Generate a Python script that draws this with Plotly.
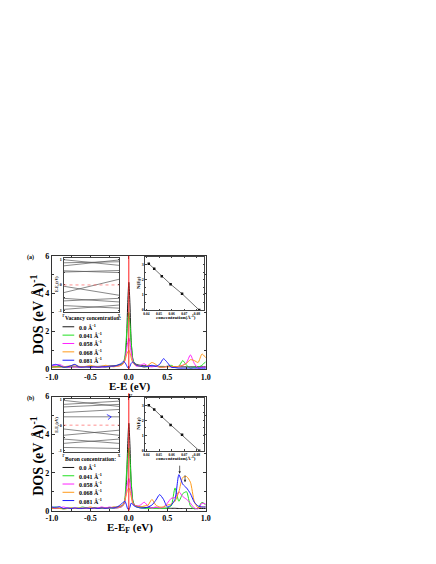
import plotly.graph_objects as go

W, H = 436, 564
SERIF = 'Liberation Serif'

energy = [-1.0, -0.95, -0.9, -0.85, -0.8, -0.75, -0.7, -0.65, -0.6, -0.55, -0.5, -0.45, -0.4, -0.35, -0.3,
          -0.25, -0.2, -0.15, -0.1, -0.07, -0.05, -0.03, -0.015, 0.0, 0.015, 0.03, 0.05, 0.07,
          0.1, 0.15, 0.2, 0.25, 0.3, 0.35, 0.4, 0.45, 0.5, 0.55, 0.6, 0.65, 0.7, 0.75, 0.8, 0.85, 0.9, 0.95, 1.0]

# panel (a): vacancy
vac_00 = [0.12, 0.12, 0.12, 0.12, 0.12, 0.12, 0.12, 0.12, 0.13, 0.13, 0.13, 0.14, 0.14, 0.15, 0.15, 0.16, 0.18, 0.2, 0.25,
          0.33, 0.55, 1.5, 3.4, 4.6, 3.4, 1.5, 0.55, 0.33,
          0.25, 0.2, 0.18, 0.16, 0.15, 0.15, 0.14, 0.14, 0.13, 0.13, 0.13, 0.12, 0.12, 0.12, 0.12, 0.12, 0.12, 0.12, 0.12]
vac_041 = [0.1, 0.12, 0.18, 0.1, 0.08, 0.12, 0.15, 0.1, 0.12, 0.1, 0.1, 0.12, 0.1, 0.12, 0.1, 0.12, 0.15, 0.18, 0.25,
           0.35, 0.7, 1.8, 2.5, 3.0, 2.4, 1.5, 0.6, 0.3,
           0.2, 0.15, 0.12, 0.12, 0.15, 0.15, 0.12, 0.12, 0.15, 0.2, 0.1, 0.15, 0.45, 0.2, 0.05, 0.1, 0.1, 0.2, 0.4]
vac_058 = [0.15, 0.2, 0.25, 0.15, 0.1, 0.1, 0.12, 0.1, 0.1, 0.12, 0.1, 0.1, 0.12, 0.1, 0.12, 0.12, 0.15, 0.15, 0.2,
           0.3, 0.5, 1.0, 1.4, 1.65, 1.4, 0.9, 0.45, 0.25,
           0.15, 0.2, 0.28, 0.15, 0.12, 0.15, 0.1, 0.1, 0.15, 0.12, 0.1, 0.15, 0.2, 0.35, 0.75, 0.3, 0.05, 0.1, 0.1]
vac_068 = [0.12, 0.1, 0.1, 0.12, 0.15, 0.18, 0.22, 0.15, 0.12, 0.15, 0.2, 0.15, 0.12, 0.15, 0.2, 0.15, 0.12, 0.15, 0.2,
           0.3, 0.45, 0.75, 0.9, 1.0, 0.85, 0.6, 0.35, 0.25,
           0.2, 0.15, 0.12, 0.2, 0.35, 0.25, 0.1, 0.1, 0.12, 0.15, 0.12, 0.15, 0.2, 0.3, 0.5, 0.45, 0.35, 0.8, 0.6]
vac_081 = [0.2, 0.25, 0.18, 0.1, 0.12, 0.18, 0.25, 0.12, 0.1, 0.12, 0.1, 0.12, 0.1, 0.12, 0.12, 0.15, 0.15, 0.2, 0.3,
           0.4, 0.35, 0.2, 0.08, 0.03, 0.15, 0.3, 0.38, 0.3,
           0.2, 0.15, 0.12, 0.15, 0.2, 0.15, 0.25, 0.55, 0.35, 0.1, 0.08, 0.05, 0.05, 0.05, 0.05, 0.05, 0.05, 0.05, 0.05]

# panel (b): boron
bor_00 = [0.12, 0.12, 0.12, 0.12, 0.12, 0.12, 0.12, 0.12, 0.13, 0.13, 0.13, 0.14, 0.14, 0.15, 0.15, 0.16, 0.18, 0.2, 0.25,
          0.33, 0.55, 1.5, 3.4, 4.6, 3.4, 1.5, 0.55, 0.33,
          0.25, 0.2, 0.18, 0.16, 0.15, 0.15, 0.14, 0.14, 0.13, 0.13, 0.13, 0.12, 0.12, 0.12, 0.12, 0.12, 0.12, 0.12, 0.12]
bor_041 = [0.15, 0.2, 0.15, 0.1, 0.12, 0.15, 0.12, 0.15, 0.2, 0.15, 0.12, 0.15, 0.12, 0.15, 0.12, 0.15, 0.12, 0.15, 0.2,
           0.3, 0.7, 2.0, 2.8, 3.3, 2.7, 1.6, 0.6, 0.3,
           0.2, 0.15, 0.12, 0.12, 0.15, 0.12, 0.12, 0.12, 0.15, 0.25, 1.2, 0.5, 0.9, 1.0, 0.25, 0.1, 0.15, 0.45, 0.3]
bor_058 = [0.15, 0.12, 0.15, 0.2, 0.15, 0.12, 0.15, 0.12, 0.15, 0.12, 0.15, 0.12, 0.15, 0.2, 0.15, 0.2, 0.15, 0.15, 0.2,
           0.3, 0.55, 1.1, 1.5, 1.7, 1.45, 0.95, 0.45, 0.3,
           0.25, 0.3, 0.45, 0.25, 0.15, 0.2, 0.15, 0.2, 0.4, 0.65, 0.7, 1.0, 0.75, 0.6, 0.4, 0.15, 0.1, 0.4, 0.35]
bor_068 = [0.12, 0.15, 0.12, 0.1, 0.12, 0.15, 0.12, 0.15, 0.12, 0.15, 0.2, 0.15, 0.12, 0.15, 0.12, 0.15, 0.2, 0.18, 0.25,
           0.35, 0.55, 0.9, 1.1, 1.2, 1.05, 0.75, 0.4, 0.3,
           0.25, 0.2, 0.25, 0.3, 0.6, 0.3, 0.2, 0.2, 0.3, 0.35, 0.5, 1.0, 1.75, 1.8, 1.5, 0.5, 0.15, 0.2, 0.2]
bor_081 = [0.2, 0.18, 0.22, 0.12, 0.15, 0.12, 0.15, 0.12, 0.12, 0.15, 0.12, 0.15, 0.12, 0.15, 0.12, 0.15, 0.15, 0.2, 0.35,
           0.45, 0.5, 0.3, 0.1, 0.05, 0.2, 0.4, 0.35, 0.25,
           0.2, 0.15, 0.15, 0.2, 0.3, 0.55, 0.85, 0.6, 0.2, 0.3, 0.6, 1.9, 1.4, 1.2, 0.9, 0.45, 0.25, 0.2, 0.2]

conc_labels = ['0.0', '0.041', '0.058', '0.068', '0.081']
colors = ['#1a1a1a', '#22e022', '#ff22ff', '#ff9a1a', '#1a1aff']

# insets: N(E_F) vs concentration
conc = [0.0419, 0.0462, 0.0522, 0.0592, 0.0683, 0.0819]
nef_a = [3.05, 2.72, 2.22, 1.7, 1.07, 0.0]
nef_b = [3.0, 2.72, 2.24, 1.7, 1.05, 0.0]

# insets: band structure, Gamma -> X
band_k = [0.0, 1.0]
bands_a = [[0.98, 0.76], [0.86, 0.9], [0.74, 0.97], [0.55, 0.48], [0.5, 0.56],
           [-0.3, 0.22], [-0.05, -0.4],
           [-0.52, -0.66], [-0.62, -0.52], [-0.8, -0.9], [-0.95, -0.78]]
bands_b = [[0.98, 0.74], [0.82, 0.95], [0.72, 0.82], [0.5, 0.62], [0.33, 0.33],
           [-0.15, -0.4], [-0.4, -0.2],
           [-0.55, -0.72], [-0.72, -0.55], [-0.88, -0.92]]
blue_k = [0.78, 0.86, 0.8]
blue_e = [0.42, 0.33, 0.22]


def px(v):
    return v / W


def py(v):
    return 1 - v / H


def bold(size, color='black'):
    return dict(family=SERIF, size=size, color=color, weight='bold')


fig = go.Figure()


def add_dos(xa, ya, series):
    for vals, color in zip(series, colors):
        fig.add_trace(go.Scatter(
            x=energy, y=vals, mode='lines', xaxis=xa, yaxis=ya,
            line=dict(color=color, width=1, shape='spline', smoothing=0.6),
            showlegend=False, hoverinfo='skip',
        ))


def add_bands(xa, ya, bands):
    for b in bands:
        fig.add_trace(go.Scatter(
            x=band_k, y=b, mode='lines', xaxis=xa, yaxis=ya,
            line=dict(color='#555555', width=0.7), showlegend=False, hoverinfo='skip',
        ))


def add_nef(xa, ya, vals):
    fig.add_trace(go.Scatter(
        x=conc, y=vals, mode='lines+markers', xaxis=xa, yaxis=ya,
        line=dict(color='#333333', width=0.7),
        marker=dict(color='#111111', size=2.5, symbol='square'),
        showlegend=False, hoverinfo='skip',
    ))


add_dos('x', 'y', [vac_00, vac_041, vac_058, vac_068, vac_081])
add_dos('x2', 'y2', [bor_00, bor_041, bor_058, bor_068, bor_081])
add_bands('x3', 'y3', bands_a)
add_bands('x5', 'y5', bands_b)
fig.add_trace(go.Scatter(x=blue_k, y=blue_e, mode='lines', xaxis='x5', yaxis='y5',
                         line=dict(color='#1a1aff', width=0.8), showlegend=False, hoverinfo='skip'))
add_nef('x4', 'y4', nef_a)
add_nef('x6', 'y6', nef_b)

frame = dict(showline=True, mirror='ticks', linecolor='#333333', linewidth=1, ticks='inside',
             showgrid=False, zeroline=False, tickcolor='#333333')
thin = dict(showline=True, mirror='ticks', linecolor='#444444', linewidth=0.7, ticks='inside',
            showgrid=False, zeroline=False, tickcolor='#444444', ticklen=1.5, tickwidth=0.6)

main_x = dict(frame, range=[-1, 1], tickvals=[-1, -0.5, 0, 0.5, 1],
              ticktext=['-1.0', '-0.5', '0.0', '0.5', '1.0'], ticklen=3, tickfont=bold(8),
              minor=dict(ticks='inside', ticklen=2, tickvals=[-0.75, -0.25, 0.25, 0.75]))
main_y = dict(frame, range=[0, 6], tickvals=[0, 2, 4, 6], ticklen=3, tickfont=bold(8),
              minor=dict(ticks='inside', ticklen=2, tickvals=[1, 3, 5]))
band_x = dict(thin, range=[0, 1], tickvals=[0, 1], ticktext=['Γ', 'X'], tickfont=bold(3.5))
band_y = dict(thin, range=[-1.05, 1.05], tickvals=[-1, -0.5, 0, 0.5, 1],
              ticktext=['-1', '', '0', '', '1'], tickfont=bold(4))
nef_x = dict(thin, range=[0.0392, 0.0856], tickvals=[0.04, 0.05, 0.06, 0.07, 0.08],
             ticktext=['0.04', '0.05', '0.06', '0.07', '0.08'], tickfont=bold(3.5))
nef_y = dict(thin, range=[0, 3.5], tickvals=[0, 1, 2, 3], tickfont=bold(4),
             minor=dict(ticks='inside', ticklen=1, tickvals=[0.5, 1.5, 2.5, 3.5]))

fig.update_layout(
    width=W, height=H, autosize=False,
    margin=dict(l=0, r=0, t=0, b=0),
    paper_bgcolor='white', plot_bgcolor='white',
    xaxis=dict(main_x, domain=[px(47), px(205)], anchor='y'),
    yaxis=dict(main_y, domain=[py(371), py(256)], anchor='x'),
    xaxis2=dict(main_x, domain=[px(47), px(205)], anchor='y2'),
    yaxis2=dict(main_y, domain=[py(515), py(399)], anchor='x2'),
    xaxis3=dict(band_x, domain=[px(59), px(116)], anchor='y3'),
    yaxis3=dict(band_y, domain=[py(313), py(258)], anchor='x3'),
    xaxis4=dict(nef_x, domain=[px(143), px(203)], anchor='y4'),
    yaxis4=dict(nef_y, domain=[py(311), py(257)], anchor='x4'),
    xaxis5=dict(band_x, domain=[px(59), px(116)], anchor='y5'),
    yaxis5=dict(band_y, domain=[py(455), py(401)], anchor='x5'),
    xaxis6=dict(nef_x, domain=[px(143), px(203)], anchor='y6'),
    yaxis6=dict(nef_y, domain=[py(454), py(400)], anchor='x6'),
)

# Fermi level markers
fig.add_shape(type='line', xref='x', yref='y domain', x0=0, x1=0, y0=0, y1=1,
              line=dict(color='#ff1a1a', width=1))
fig.add_shape(type='line', xref='x2', yref='y2 domain', x0=0, x1=0, y0=0, y1=1.03,
              line=dict(color='#ff1a1a', width=1))
for xr, yr in [('x3', 'y3'), ('x5', 'y5')]:
    fig.add_shape(type='line', xref=f'{xr} domain', yref=yr, x0=0, x1=1, y0=0, y1=0,
                  line=dict(color='#ff4444', width=0.6, dash='dot'))

ann = []


def text(x, y, s, size, angle=0, xanchor='center', color='black'):
    ann.append(dict(x=px(x), y=py(y), xref='paper', yref='paper', text=s, showarrow=False,
                    font=bold(size, color), textangle=angle, xanchor=xanchor, yanchor='middle'))


# main axis titles and panel labels
for y_mid, lab, y_top in [(315, '(a)', 258), (459, '(b)', 401)]:
    text(33, y_mid, 'DOS (eV Å)<sup>-1</sup>', 14, angle=-90)
    text(25, y_top, lab, 6)
text(127, 389, 'E-E (eV)', 11)
text(127, 398, 'F', 7)
text(127, 532, 'E-E<sub>F</sub> (eV)', 11)

# inset titles
for top in [258, 401]:
    text(53, top + 27, 'E-E<sub>F</sub>(eV)', 4, angle=-90)
    text(137, top + 25, 'N(E<sub>F</sub>)', 5, angle=-90)
    text(174, top + 60, 'concentration(Å<sup>-1</sup>)', 5)

# legends
for title, y0, dy in [('Vacancy concentration:', 319, 8.5), ('Boron concentration:', 462, 8.4)]:
    text(58, y0, title, 5.6, xanchor='left')
    for i, (lab, c) in enumerate(zip(conc_labels, colors)):
        yy = y0 + 9 + i * dy
        fig.add_shape(type='line', xref='paper', yref='paper', x0=px(58), x1=px(70), y0=py(yy), y1=py(yy),
                      line=dict(color=c, width=1))
        text(73, yy, f'{lab} Å<sup>-1</sup>', 6, xanchor='left')

# arrows marking the boron peaks
for xa, tip, tail in [(0.66, 1.95, 2.45), (0.73, 1.5, 1.95)]:
    ann.append(dict(x=xa, y=tip, ax=xa, ay=tail, xref='x2', yref='y2', axref='x2', ayref='y2',
                    showarrow=True, arrowhead=2, arrowsize=0.7, arrowwidth=0.7, arrowcolor='#222222', text=''))

fig.update_layout(annotations=ann)

fig.write_html("out.html", config={'displayModeBar': False},
               post_script="document.body.style.margin='0';")
